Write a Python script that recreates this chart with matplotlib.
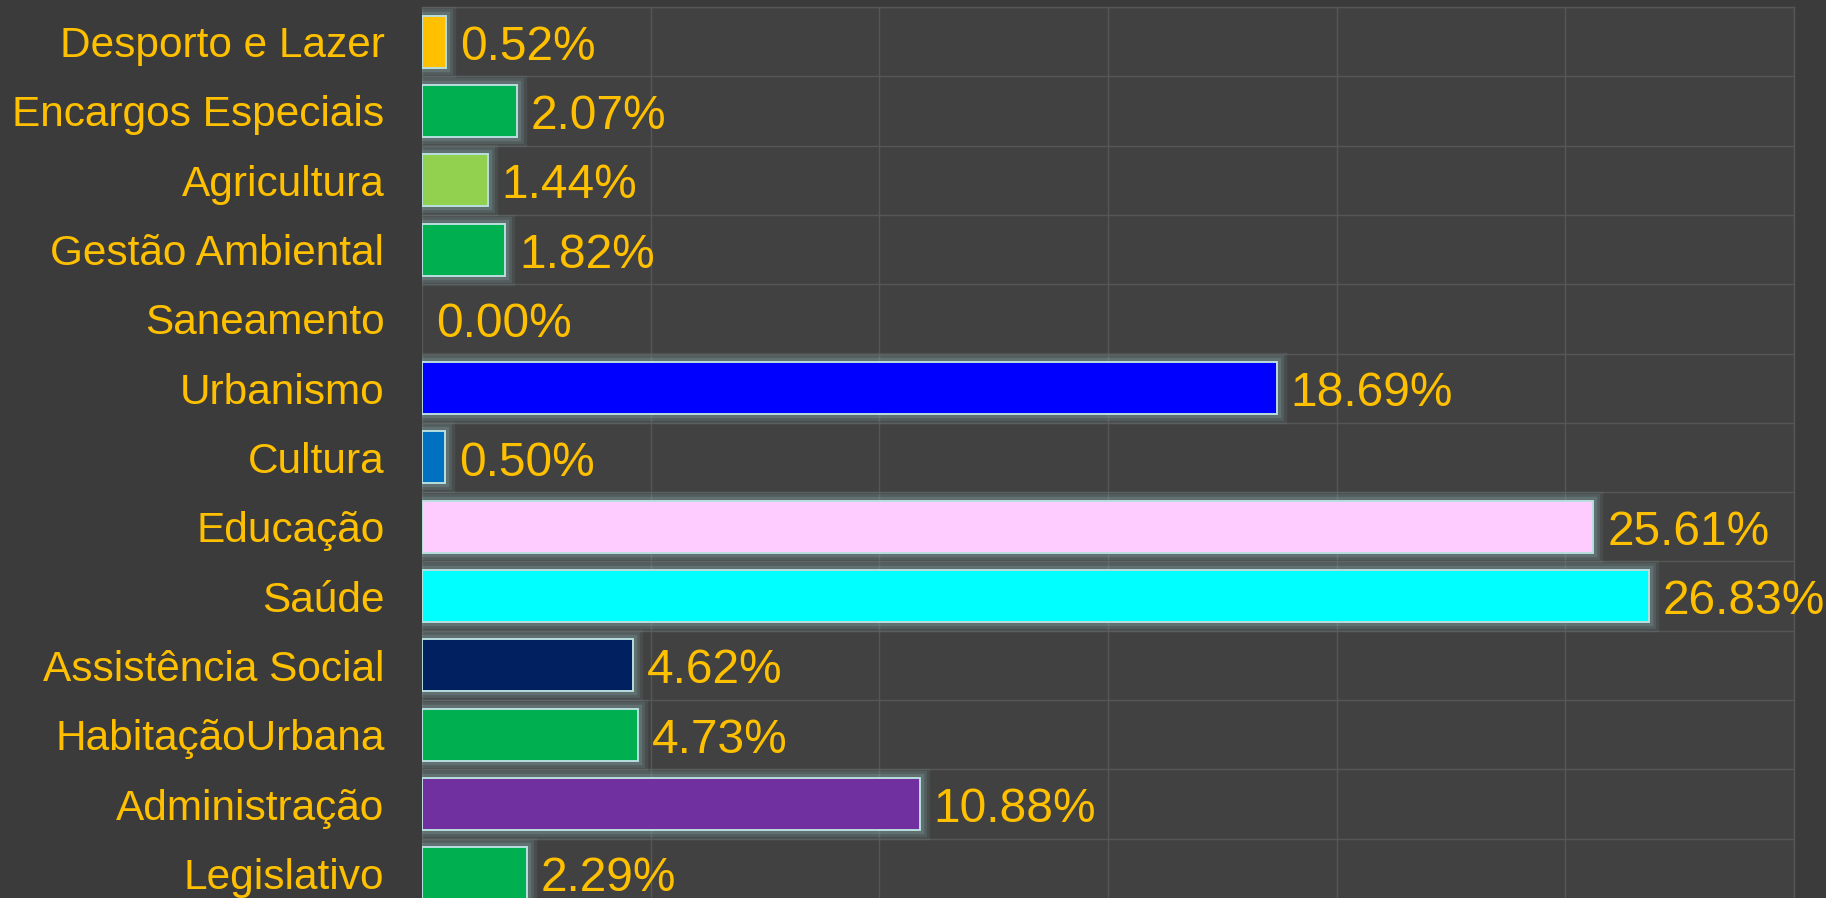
"""Horizontal bar chart of spending share by function, dark theme with glowing bars."""

import matplotlib

matplotlib.use("Agg")
import matplotlib.pyplot as plt  # noqa: E402
import matplotlib.patheffects as pe  # noqa: E402
from matplotlib.ticker import MultipleLocator  # noqa: E402

CATEGORIES = [
    "Desporto e Lazer", "Encargos Especiais", "Agricultura", "Gestão Ambiental",
    "Saneamento", "Urbanismo", "Cultura", "Educação", "Saúde",
    "Assistência Social", "HabitaçãoUrbana", "Administração", "Legislativo",
]
SHARES = [0.52, 2.07, 1.44, 1.82, 0.00, 18.69, 0.50, 25.61, 26.83, 4.62, 4.73, 10.88, 2.29]
COLORS = [
    "#FFC000", "#00B050", "#92D050", "#00B050", "#00B050", "#0000FF", "#0070C0",
    "#FFCCFF", "#00FFFF", "#002060", "#00B050", "#7030A0", "#00B050",
]

FIG_BG = "#3b3b3b"
AX_BG = "#414141"
GRID = "#565656"
TEXT = "#FFC000"
EDGE = "#b9dede"
GLOW = "#86a8a8"

plt.rcParams["font.family"] = ["Liberation Sans", "DejaVu Sans"]

fig = plt.figure(figsize=(18.26, 8.98), dpi=100, facecolor=FIG_BG)
ax = fig.add_axes([0.2311, -0.0111, 0.7514, 1.0033])
ax.set_facecolor(AX_BG)

ypos = list(range(len(CATEGORIES)))
bars = ax.barh(ypos, SHARES, height=0.75, color=COLORS, edgecolor=EDGE,
               linewidth=1.4, zorder=3)

glow = [
    pe.Stroke(linewidth=14, foreground=GLOW, alpha=0.12),
    pe.Stroke(linewidth=10, foreground=GLOW, alpha=0.18),
    pe.Stroke(linewidth=6, foreground=GLOW, alpha=0.28),
    pe.Normal(),
]
for bar, v in zip(bars, SHARES):
    if v == 0:
        bar.set_visible(False)
    else:
        bar.set_path_effects(glow)

for y, v in zip(ypos, SHARES):
    ax.annotate(f"{v:.2f}%", xy=(v, y), xytext=(10, -4), textcoords="offset points",
                ha="left", va="center", fontsize=34.5, color=TEXT, zorder=5,
                annotation_clip=False)

ax.set_xlim(0, 30)
ax.set_ylim(len(CATEGORIES) - 0.5, -0.5)
ax.xaxis.set_major_locator(MultipleLocator(5))
ax.yaxis.set_minor_locator(MultipleLocator(1, offset=0.5))
ax.grid(True, axis="x", which="major", color=GRID, linewidth=1.0, zorder=0)
ax.grid(True, axis="y", which="minor", color=GRID, linewidth=1.0, zorder=0)
ax.set_axisbelow(True)

ax.set_yticks(ypos)
ax.set_yticklabels(CATEGORIES, fontsize=30.5, color=TEXT)
ax.tick_params(axis="y", which="both", length=0, pad=27)
ax.tick_params(axis="x", which="both", length=0, labelbottom=False)

for side, spine in ax.spines.items():
    spine.set_color(GRID)
    spine.set_linewidth(1.0)
ax.spines["left"].set_visible(False)
ax.spines["bottom"].set_visible(False)

fig.savefig("out.png", dpi=100, facecolor=FIG_BG)
